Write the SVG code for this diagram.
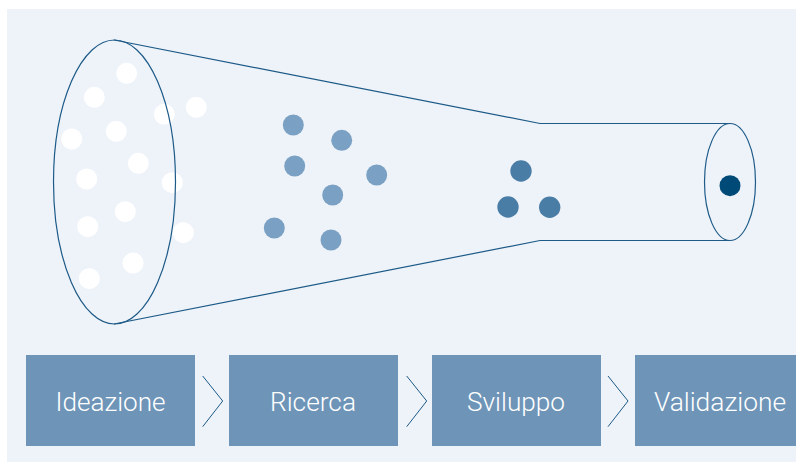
<svg xmlns="http://www.w3.org/2000/svg" width="796" height="462" viewBox="0 0 796 462">
<style>
.bg{fill:#eef3fa}
.ln{fill:none;stroke:#1d5a87;stroke-width:1.2}
.w{fill:#ffffff}
.l{fill:#7aa1c3}
.m{fill:#4a7da6}
.d{fill:#004a78}
.box{fill:#6e95b8}
.lbl{fill:#ffffff;font-family:Roboto,"Noto Sans",sans-serif;font-weight:300;font-size:26px;text-anchor:middle}
.chev{fill:none;stroke:#1d5a87;stroke-width:1}
</style>
<rect class="bg" x="7" y="9" width="789" height="453"/>
<g id="dots">
<circle class="w" cx="126.7" cy="73.3" r="10.5"/>
<circle class="w" cx="94.3" cy="97.3" r="10.5"/>
<circle class="w" cx="164.3" cy="114.3" r="10.5"/>
<circle class="w" cx="196.3" cy="107.3" r="10.5"/>
<circle class="w" cx="71.7" cy="139" r="10.5"/>
<circle class="w" cx="116.3" cy="131.3" r="10.5"/>
<circle class="w" cx="138.3" cy="163.3" r="10.5"/>
<circle class="w" cx="86.7" cy="179" r="10.5"/>
<circle class="w" cx="172.3" cy="182.7" r="10.5"/>
<circle class="w" cx="125.3" cy="211.7" r="10.5"/>
<circle class="w" cx="87.7" cy="226.7" r="10.5"/>
<circle class="w" cx="183.3" cy="232.7" r="10.5"/>
<circle class="w" cx="133" cy="263" r="10.5"/>
<circle class="w" cx="89.3" cy="278.7" r="10.5"/>
<circle class="l" cx="293.3" cy="125" r="10.5"/>
<circle class="l" cx="341.7" cy="140.3" r="10.5"/>
<circle class="l" cx="294.7" cy="166" r="10.5"/>
<circle class="l" cx="376.7" cy="175" r="10.5"/>
<circle class="l" cx="332.7" cy="195" r="10.5"/>
<circle class="l" cx="274.3" cy="228" r="10.5"/>
<circle class="l" cx="331" cy="240" r="10.5"/>
<circle class="m" cx="521" cy="171" r="10.7"/>
<circle class="m" cx="508" cy="207" r="10.7"/>
<circle class="m" cx="549.7" cy="207.3" r="10.7"/>
<circle class="d" cx="730" cy="185.7" r="10.5"/>
</g>
<g id="funnel">
<ellipse class="ln" cx="114.5" cy="182" rx="61" ry="142"/>
<path class="ln" d="M114 40 L540 123.5 L730 123.5 M114 324 L540 240.5 L730 240.5"/>
<ellipse class="ln" cx="730" cy="182" rx="25.5" ry="58.5"/>
</g>
<g id="ideazione">
<rect class="box" x="26" y="355" width="169" height="91"/>
<text class="lbl" x="110.5" y="410.5" textLength="110" lengthAdjust="spacingAndGlyphs">Ideazione</text>
</g>
<g id="ricerca">
<rect class="box" x="229" y="355" width="169" height="91"/>
<text class="lbl" x="313" y="410.5" textLength="86" lengthAdjust="spacingAndGlyphs">Ricerca</text>
</g>
<g id="sviluppo">
<rect class="box" x="432" y="355" width="169" height="91"/>
<text class="lbl" x="516" y="410.5" textLength="98" lengthAdjust="spacingAndGlyphs">Sviluppo</text>
</g>
<g id="validazione">
<rect class="box" x="635" y="355" width="169" height="91"/>
<text class="lbl" x="720" y="410.5" textLength="132" lengthAdjust="spacingAndGlyphs">Validazione</text>
</g>
<g id="connectors">
<polyline class="chev" points="202.7,376 222.7,401 202.7,426.7"/>
<polyline class="chev" points="406.7,376 426.7,401 406.7,426.7"/>
<polyline class="chev" points="608,376 628,401 608,426.7"/>
</g>
</svg>
